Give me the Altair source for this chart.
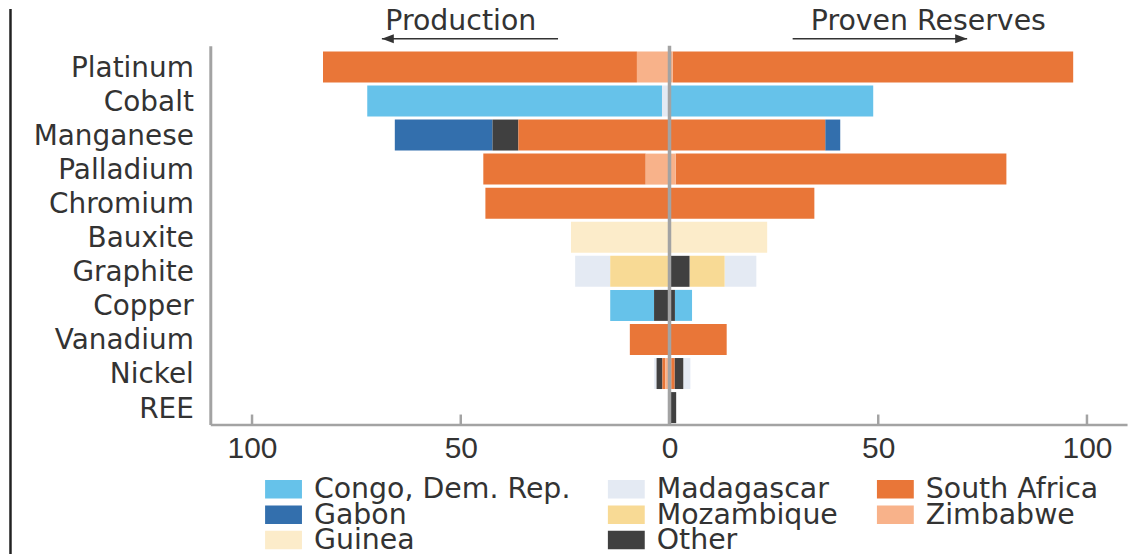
import altair as alt
import pandas as pd

# ---------------- data ----------------
minerals = ["Platinum", "Cobalt", "Manganese", "Palladium", "Chromium", "Bauxite",
            "Graphite", "Copper", "Vanadium", "Nickel", "REE"]

countries = ["Congo, Dem. Rep.", "Gabon", "Guinea", "Madagascar", "Mozambique",
             "Other", "South Africa", "Zimbabwe"]
country_colors = ["#66c2ea", "#336fad", "#fcecca", "#e4eaf3", "#f8da95",
                  "#404040", "#e97638", "#f8b28a"]

# share of world production (%), per country, aligned with `minerals`
prod_congo        = [0, 70.6, 0, 0, 0, 0, 0, 10.5, 0, 0, 0]
prod_gabon        = [0, 0, 23.4, 0, 0, 0, 0, 0, 0, 0, 0]
prod_guinea       = [0, 0, 0, 0, 0, 23.6, 0, 0, 0, 0, 0]
prod_madagascar   = [0, 1.8, 0, 0, 0, 0, 8.4, 0, 0, 0.55, 0.4]
prod_mozambique   = [0, 0, 0, 0, 0, 0, 14.2, 0, 0, 0, 0]
prod_other        = [0, 0, 6.2, 0, 0, 0, 0, 3.7, 0, 1.4, 0]
prod_south_africa = [75.2, 0, 36.2, 38.9, 44.1, 0, 0, 0, 9.5, 0.7, 0]
prod_zimbabwe     = [7.8, 0, 0, 5.7, 0, 0, 0, 0, 0, 1.0, 0]

# share of world proven reserves (%), per country, aligned with `minerals`
res_congo        = [0, 48.8, 0, 0, 0, 0, 0, 4.1, 0, 0, 0]
res_gabon        = [0, 0, 3.6, 0, 0, 0, 0, 0, 0, 0, 0]
res_guinea       = [0, 0, 0, 0, 0, 23.4, 0, 0, 0, 0, 0]
res_madagascar   = [0, 0, 0, 0, 0, 0, 7.6, 0, 0, 1.7, 0]
res_mozambique   = [0, 0, 0, 0, 0, 0, 8.4, 0, 0, 0, 0]
res_other        = [0, 0, 0, 0, 0, 0, 4.8, 1.3, 0, 2.1, 1.6]
res_south_africa = [95.9, 0, 37.3, 79.2, 34.7, 0, 0, 0, 13.7, 0.8, 0]
res_zimbabwe     = [0.8, 0, 0, 1.5, 0, 0, 0, 0, 0, 0.4, 0]

tick_values = [-100, -50, 0, 50, 100]

annot_labels = ["Production", "Proven Reserves"]
annot_text_x = [-50, 62]
arrow_from = [-26.7, 29.5]
arrow_to = [-68.9, 71.3]

# ---------------- layout constants (pixels, relative to plot area) ----------------
W, H = 920, 380
legend_col_x = [55, 399, 669]      # left edge of swatches per legend column
legend_row_y = [445, 470.5, 496]   # centre of each legend row

# ---------------- table ----------------
prod_lists = [prod_congo, prod_gabon, prod_guinea, prod_madagascar, prod_mozambique,
              prod_other, prod_south_africa, prod_zimbabwe]
res_lists = [res_congo, res_gabon, res_guinea, res_madagascar, res_mozambique,
             res_other, res_south_africa, res_zimbabwe]

rows = []
for ci, c in enumerate(countries):
    rank = len(countries) - ci  # stacked outward in reverse alphabetical order
    for mi, m in enumerate(minerals):
        p = prod_lists[ci][mi]
        r = res_lists[ci][mi]
        if p:
            rows.append({"mineral": m, "country": c, "value": -p, "rank": rank})
        if r:
            rows.append({"mineral": m, "country": c, "value": r, "rank": rank})
df = pd.DataFrame(rows)

leg_df = pd.DataFrame({
    "country": countries,
    "lx": [legend_col_x[i // 3] for i in range(len(countries))],
    "ly": [legend_row_y[i % 3] for i in range(len(countries))],
})

GRAY = "#a3a3a3"
TXT = "#333333"
xscale = alt.Scale(domain=[-110, 109.6], nice=False, zero=False)
cscale = alt.Scale(domain=countries, range=country_colors)

bars = alt.Chart(df).mark_bar().encode(
    x=alt.X("value:Q", stack="zero", scale=xscale,
            axis=alt.Axis(values=tick_values, labelExpr="abs(datum.value)", title=None,
                          ticks=False, grid=False, domainColor=GRAY, domainWidth=2.5,
                          labelFont="Liberation Sans", labelFontSize=30, labelColor=TXT,
                          labelPadding=9)),
    y=alt.Y("mineral:N", sort=minerals,
            scale=alt.Scale(paddingInner=0.09, paddingOuter=0.102, align=0.8),
            axis=alt.Axis(title=None, ticks=False, domainColor=GRAY, domainWidth=3,
                          labelFont="DejaVu Sans", labelFontSize=28, labelColor=TXT,
                          labelPadding=17, labelOffset=2)),
    color=alt.Color("country:N", scale=cscale, legend=None),
    order=alt.Order("rank:Q", sort="ascending"),
)

zero_line = alt.Chart(pd.DataFrame({"x": [0]})).mark_rule(color=GRAY, strokeWidth=3.5).encode(
    x=alt.X("x:Q", scale=xscale), y=alt.value(0), y2=alt.value(H))

ticks = alt.Chart(pd.DataFrame({"x": tick_values})).mark_rule(color=GRAY, strokeWidth=2.5).encode(
    x=alt.X("x:Q", scale=xscale), y=alt.value(H - 10), y2=alt.value(H))

ann = pd.DataFrame({"label": annot_labels, "tx": annot_text_x,
                    "a0": arrow_from, "a1": arrow_to})

ann_text = alt.Chart(ann).mark_text(font="DejaVu Sans", fontSize=28.5, color=TXT,
                                    baseline="middle", align="center").encode(
    x=alt.X("tx:Q", scale=xscale), y=alt.value(-25), text="label:N")

shafts = alt.Chart(ann).mark_rule(color="#333333", strokeWidth=1.5).encode(
    x=alt.X("a0:Q", scale=xscale), x2="a1:Q", y=alt.value(-7))

head_left = alt.Chart(ann.iloc[[0]]).mark_point(
    shape="M0,0L2,-0.75L2,0.75Z", size=144, filled=True, color="#333333", opacity=1).encode(
    x=alt.X("a1:Q", scale=xscale), y=alt.value(-7))
head_right = alt.Chart(ann.iloc[[1]]).mark_point(
    shape="M0,0L-2,-0.75L-2,0.75Z", size=144, filled=True, color="#333333", opacity=1).encode(
    x=alt.X("a1:Q", scale=xscale), y=alt.value(-7))

border = alt.Chart(pd.DataFrame({"x": [0]})).mark_rule(color="#222222", strokeWidth=2.5).encode(
    x=alt.value(-200.5), y=alt.value(-37), y2=alt.value(H + 130))

main = alt.layer(bars, zero_line, ticks, ann_text, shafts, head_left, head_right, border)

# legend drawn from the same colour scale, in three columns
lx_scale = alt.Scale(domain=[0, W], nice=False, zero=False)
ly_scale = alt.Scale(domain=[0, H], nice=False, zero=False, reverse=True)

leg_swatch = alt.Chart(leg_df).mark_point(
    shape="M-1,-0.5H1V0.5H-1Z", size=1369, filled=True, opacity=1, strokeWidth=0,
    xOffset=18.5).encode(
    x=alt.X("lx:Q", scale=lx_scale, axis=None),
    y=alt.Y("ly:Q", scale=ly_scale, axis=None),
    color=alt.Color("country:N", scale=cscale, legend=None))

leg_text = alt.Chart(leg_df).mark_text(
    align="left", baseline="middle", dx=49, font="DejaVu Sans", fontSize=28.5,
    color=TXT).encode(
    x=alt.X("lx:Q", scale=lx_scale, axis=None),
    y=alt.Y("ly:Q", scale=ly_scale, axis=None),
    text="country:N")

legend = alt.layer(leg_swatch, leg_text)

chart = alt.layer(main, legend).resolve_scale(x="independent", y="independent").properties(
    width=W, height=H,
    padding={"left": 203, "top": 37, "right": 12, "bottom": 130},
    autosize=alt.AutoSizeParams(type="none"),
).configure_view(stroke=None)

chart.save("out.html", embed_options={"renderer": "svg", "actions": False})
